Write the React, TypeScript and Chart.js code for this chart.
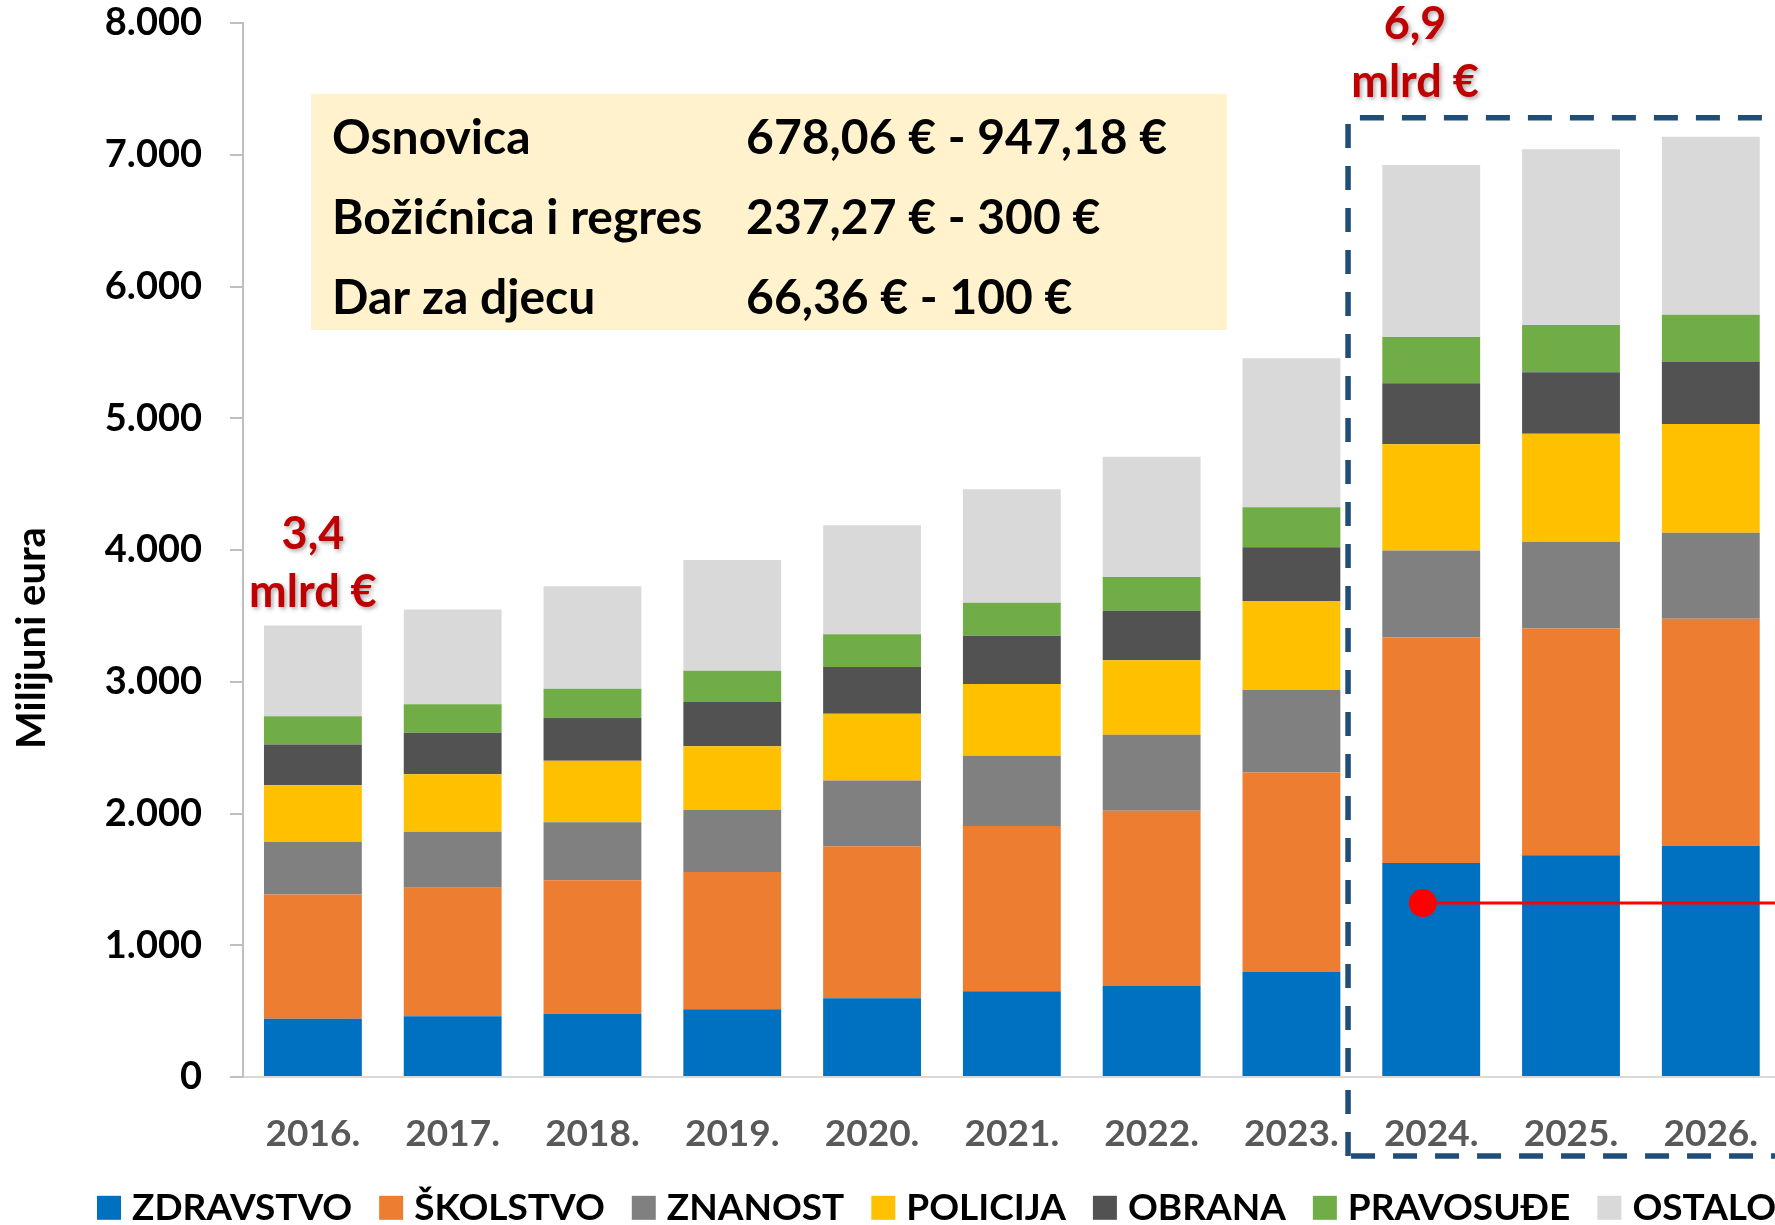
import React, { useEffect, useRef } from "react";
import { Chart, registerables } from "chart.js";

Chart.register(...registerables);

// ---------- DATA ----------
const YEARS = ["2016.", "2017.", "2018.", "2019.", "2020.", "2021.", "2022.", "2023.", "2024.", "2025.", "2026."];

const ZDRAVSTVO = [442, 461, 481, 514, 597, 650, 691, 797, 1625, 1684, 1755];
const SKOLSTVO = [943, 975, 1013, 1042, 1154, 1255, 1330, 1515, 1713, 1721, 1723];
const ZNANOST = [400, 425, 440, 470, 499, 534, 576, 626, 658, 658, 653];
const POLICIJA = [430, 436, 467, 484, 508, 544, 567, 674, 806, 820, 825];
const OBRANA = [309, 315, 325, 337, 354, 366, 375, 408, 463, 466, 474];
const PRAVOSUDJE = [215, 218, 221, 236, 248, 251, 256, 305, 351, 359, 355];
const OSTALO = [688, 718, 777, 842, 827, 862, 912, 1130, 1306, 1333, 1351];

const SERIES_NAMES = ["ZDRAVSTVO", "ŠKOLSTVO", "ZNANOST", "POLICIJA", "OBRANA", "PRAVOSUĐE", "OSTALO"];
const SERIES_VALUES = [ZDRAVSTVO, SKOLSTVO, ZNANOST, POLICIJA, OBRANA, PRAVOSUDJE, OSTALO];
const SERIES_COLORS = ["#0070C0", "#ED7D31", "#808080", "#FFC000", "#525252", "#70AD47", "#D9D9D9"];

const Y_MIN = 0;
const Y_MAX = 8000;
const Y_STEP = 1000;

// red marker line (x in category units on a hidden linear axis)
const RED_LINE = [
  { x: 8.44, y: 1320 },
  { x: 11.5, y: 1320 },
];

// total labels: index of the year whose total is written
const TOTAL_LABEL_INDEX = [0, 8];

const INFO_ROWS: [string, string][] = [
  ["Osnovica", "678,06 € - 947,18 €"],
  ["Božićnica i regres", "237,27 € - 300 €"],
  ["Dar za djecu", "66,36 € - 100 €"],
];

const AXIS_TITLE = "Milijuni eura";
const UNIT = "mlrd €";

// ---------- HELPERS ----------
const fmtThousands = (v: number) => String(v).replace(/\B(?=(\d{3})+(?!\d))/g, ".");
const totals = YEARS.map((_, i) => SERIES_VALUES.reduce((s, arr) => s + arr[i], 0));
const fmtBillions = (v: number) => (v / 1000).toFixed(1).replace(".", ",");

const FONT = "Lato";

const overlayPlugin = {
  id: "overlay",
  afterDraw(chart: any) {
    const { ctx, chartArea, scales } = chart;
    const x = scales.x;
    const y = scales.y;
    const x2 = scales.x2;
    ctx.save();

    // ---- info box ----
    const bl = x2.getPixelForValue(0.487);
    const br = x2.getPixelForValue(7.04);
    const bt = y.getPixelForValue(7463);
    const bb = y.getPixelForValue(5670);
    ctx.fillStyle = "#FFF2CC";
    ctx.fillRect(bl, bt, br - bl, bb - bt);
    ctx.fillStyle = "#000000";
    ctx.font = `bold 48px ${FONT}`;
    ctx.textAlign = "left";
    ctx.textBaseline = "alphabetic";
    INFO_ROWS.forEach((row, i) => {
      const by = bt + 60 + i * 80;
      ctx.fillText(row[0], bl + 21, by);
      ctx.fillText(row[1], bl + 435, by);
    });

    // ---- dashed forecast box ----
    const L = x2.getPixelForValue(7.905);
    const T = y.getPixelForValue(7280);
    const B = chartArea.bottom + 79;
    const R = x2.getPixelForValue(11.4);
    ctx.strokeStyle = "#1F4E79";
    ctx.lineWidth = 5.5;
    ctx.setLineDash([24, 18]);
    ctx.beginPath();
    ctx.moveTo(L, B);
    ctx.lineTo(L, T);
    ctx.lineTo(R, T);
    ctx.moveTo(L + 3, B);
    ctx.lineTo(R, B);
    ctx.stroke();
    ctx.setLineDash([]);

    // ---- total labels ----
    ctx.fillStyle = "#C00000";
    ctx.font = `bold 45px ${FONT}`;
    ctx.textAlign = "center";
    ctx.textBaseline = "alphabetic";
    ctx.shadowColor = "rgba(0,0,0,0.35)";
    ctx.shadowBlur = 4;
    ctx.shadowOffsetX = 2;
    ctx.shadowOffsetY = 2;
    TOTAL_LABEL_INDEX.forEach((idx, k) => {
      const txt = fmtBillions(totals[idx]);
      let cx: number;
      let base2: number;
      if (k === 0) {
        cx = x.getPixelForValue(idx);
        base2 = y.getPixelForValue(totals[idx]) - 18.5;
      } else {
        cx = x2.getPixelForValue(idx + 0.384);
        base2 = T - 21.3;
      }
      ctx.fillText(txt, cx, base2 - 58);
      ctx.fillText(UNIT, cx, base2);
    });
    ctx.shadowColor = "transparent";
    ctx.shadowBlur = 0;
    ctx.shadowOffsetX = 0;
    ctx.shadowOffsetY = 0;

    // ---- y axis title ----
    ctx.save();
    ctx.translate(32, (chartArea.top + chartArea.bottom) / 2 + 88);
    ctx.rotate(-Math.PI / 2);
    ctx.fillStyle = "#000000";
    ctx.font = `bold 40px ${FONT}`;
    ctx.textAlign = "center";
    ctx.textBaseline = "middle";
    ctx.fillText(AXIS_TITLE, 0, 0);
    ctx.restore();

    // ---- legend ----
    let lx = 97;
    const ly = chart.height - 17.2;
    ctx.font = `bold 37px ${FONT}`;
    ctx.textAlign = "left";
    ctx.textBaseline = "alphabetic";
    chart.data.datasets
      .filter((d: any) => d.type !== "line")
      .forEach((ds: any) => {
        ctx.fillStyle = ds.backgroundColor;
        ctx.fillRect(lx, ly - 12, 24, 24);
        ctx.fillStyle = "#000000";
        ctx.fillText(ds.label, lx + 35, ly + 12.5);
        lx += 35 + ctx.measureText(ds.label).width + 27;
      });

    ctx.restore();
  },
};

export default function App() {
  const canvasRef = useRef<HTMLCanvasElement | null>(null);

  useEffect(() => {
    let chart: Chart | null = null;
    let cancelled = false;

    const build = () => {
      if (cancelled || !canvasRef.current) return;
      Chart.defaults.font.family = FONT;

      const barSets = SERIES_NAMES.map((name, i) => ({
        type: "bar" as const,
        label: name,
        data: SERIES_VALUES[i],
        backgroundColor: SERIES_COLORS[i],
        borderWidth: 0,
        stack: "all",
        grouped: false,
        categoryPercentage: 1,
        barPercentage: 0.7,
        order: 0,
      }));

      const lineSet: any = {
        type: "line",
        label: "marker",
        data: RED_LINE,
        xAxisID: "x2",
        yAxisID: "y",
        stack: "marker",
        borderColor: "#FF0000",
        backgroundColor: "#FF0000",
        borderWidth: 3,
        pointRadius: [14, 0],
        pointBorderWidth: 0,
        pointBackgroundColor: "#FF0000",
        showLine: true,
        fill: false,
        order: -1,
      };

      chart = new Chart(canvasRef.current, {
        type: "bar",
        data: {
          labels: YEARS,
          datasets: [...barSets, lineSet] as any,
        },
        options: {
          responsive: false,
          animation: false,
          devicePixelRatio: 1,
          events: [],
          layout: { padding: { top: 23, right: 19.3, bottom: 0, left: 0 } },
          plugins: {
            legend: { display: false },
            tooltip: { enabled: false },
            title: { display: false },
          },
          scales: {
            x: {
              type: "category",
              stacked: true,
              offset: true,
              grid: { display: false },
              border: { display: true, color: "#D9D9D9", width: 2 },
              ticks: {
                color: "#595959",
                font: { family: FONT, size: 37, weight: "bold" },
                padding: 27,
                maxRotation: 0,
                autoSkip: false,
              },
              afterFit: (scale: any) => {
                scale.height = 148;
                scale.paddingLeft = 0;
                scale.paddingRight = 0;
              },
            },
            x2: {
              type: "linear",
              display: false,
              min: 0,
              max: 11,
              offset: false,
            },
            y: {
              type: "linear",
              stacked: true,
              min: Y_MIN,
              max: Y_MAX,
              grid: {
                display: true,
                drawOnChartArea: false,
                drawTicks: true,
                tickLength: 13,
                color: "#BFBFBF",
                lineWidth: 2,
              },
              border: { display: true, color: "#BFBFBF", width: 2 },
              ticks: {
                stepSize: Y_STEP,
                color: "#000000",
                font: { family: FONT, size: 38, weight: "bold" },
                padding: 28,
                callback: (v: any) => fmtThousands(Number(v)),
              },
              afterFit: (scale: any) => {
                scale.width = 243;
                scale.paddingTop = 0;
                scale.paddingBottom = 0;
              },
            },
          },
        } as any,
        plugins: [overlayPlugin],
      });
    };

    const fontsReady = (document as any).fonts?.load
      ? Promise.all([
          (document as any).fonts.load(`bold 37px ${FONT}`),
          (document as any).fonts.load(`bold 48px ${FONT}`),
        ]).catch(() => null)
      : Promise.resolve(null);
    fontsReady.then(build);

    return () => {
      cancelled = true;
      if (chart) chart.destroy();
    };
  }, []);

  return (
    <div
      style={{
        position: "fixed",
        left: 0,
        top: 0,
        width: 1775,
        height: 1225,
        overflow: "hidden",
        background: "#ffffff",
      }}
    >
      <canvas
        ref={canvasRef}
        width={1800}
        height={1225}
        style={{ display: "block", width: 1800, height: 1225 }}
      />
    </div>
  );
}
